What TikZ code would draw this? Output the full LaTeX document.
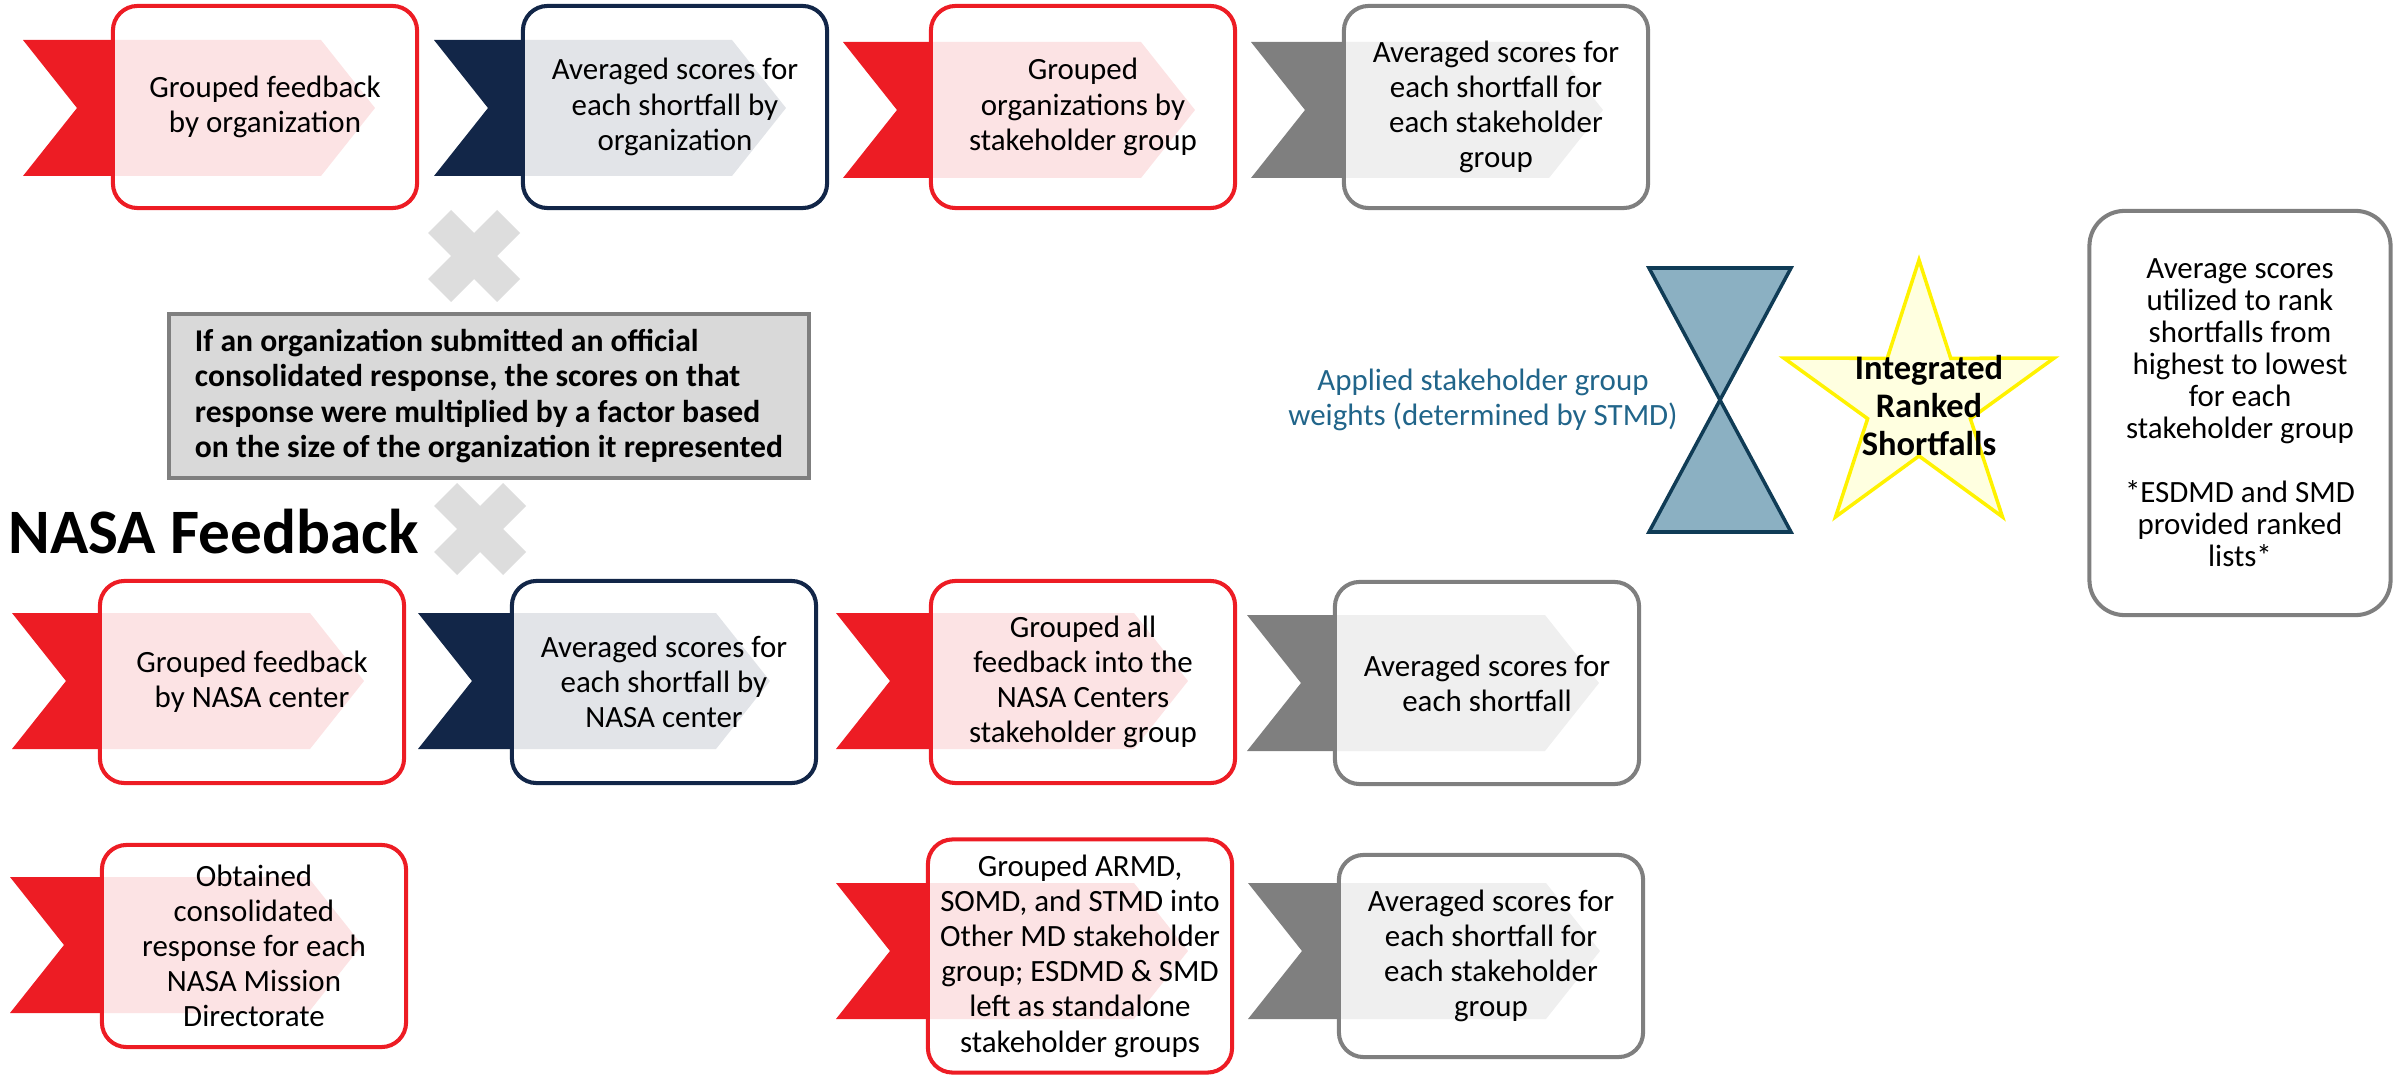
\documentclass[tikz,border=0pt]{standalone}
\usepackage{fontspec}
\setmainfont{Carlito}
\definecolor{nasared}{RGB}{237,28,36}
\definecolor{nasanavy}{RGB}{18,38,72}
\definecolor{nasagray}{RGB}{127,127,127}
\definecolor{notefill}{RGB}{217,217,217}
\definecolor{xgray}{RGB}{221,221,221}
\definecolor{glassfill}{RGB}{139,176,194}
\definecolor{glassline}{RGB}{16,60,86}
\definecolor{starfill}{RGB}{255,255,224}
\definecolor{weightblue}{RGB}{33,101,138}

\tikzset{
  stepbox/.style={draw=#1, line width=1.15pt, rounded corners=7pt, fill=white,
    fill opacity=0.88, text opacity=1, minimum width=3.04cm, minimum height=2.02cm,
    align=center, inner sep=1pt, font=\fontsize{8.8}{10}\selectfont},
  notebox/.style={draw=nasagray, line width=1.1pt, fill=notefill, minimum width=6.4cm,
    minimum height=1.64cm, align=left, font=\fontsize{9}{10}\selectfont\bfseries},
  rankbox/.style={draw=nasagray, line width=1.15pt, rounded corners=10pt,
    minimum width=3.01cm, minimum height=4.04cm, align=center,
    font=\fontsize{8.8}{9.1}\selectfont},
  starline/.style={draw=yellow, line width=1pt, fill=starfill},
  glass/.style={draw=glassline, line width=1pt, fill=glassfill},
}

\begin{document}
\begin{tikzpicture}[x=0.01cm, y=-0.01cm]
\useasboundingbox (0,0) rectangle (2405,1076);
% chevrons behind the boxes
\foreach \cx/\cy/\cc in {23/108/nasared, 434/108/nasanavy, 843/110/nasared, 1251/110/nasagray,
    12/681/nasared, 418/681/nasanavy, 836/681/nasared, 1247/683/nasagray,
    10/945/nasared, 836/951/nasared, 1248/951/nasagray}
  \fill[\cc] (\cx,\cy-68) -- (\cx+298,\cy-68) -- (\cx+352,\cy) -- (\cx+298,\cy+68)
    -- (\cx,\cy+68) -- (\cx+54,\cy) -- cycle;
\foreach \xc/\yc in {474/256, 480/529}
  \fill[xgray, shift={(\xc,\yc)}] (-23,-46) -- (0,-23) -- (23,-46) -- (46,-23) -- (23,0)
    -- (46,23) -- (23,46) -- (0,23) -- (-23,46) -- (-46,23) -- (-23,0) -- (-46,-23) -- cycle;

\node[stepbox=nasared] (orggroup) at (265,107) {Grouped feedback\\by organization};
\node[stepbox=nasanavy] (orgavg) at (675,107) {Averaged scores for\\each shortfall by\\organization};
\node[stepbox=nasared] (stakegroup) at (1083,107) {Grouped\\organizations by\\stakeholder group};
\node[stepbox=nasagray] (stakeavg) at (1496,107) {Averaged scores for\\each shortfall for\\each stakeholder\\group};
\node[stepbox=nasared] (centergroup) at (252,682) {Grouped feedback\\by NASA center};
\node[stepbox=nasanavy] (centeravg) at (664,682) {Averaged scores for\\each shortfall by\\NASA center};
\node[stepbox=nasared] (centerall) at (1083,682) {Grouped all\\feedback into the\\NASA Centers\\stakeholder group};
\node[stepbox=nasagray] (centerscore) at (1487,683) {Averaged scores for\\each shortfall};
\node[stepbox=nasared] (mdresponse) at (254,946) {Obtained\\consolidated\\response for each\\NASA Mission\\Directorate};
\node[stepbox=nasared, minimum height=2.33cm] (mdgroup) at (1080,956) {Grouped ARMD,\\SOMD, and STMD into\\Other MD stakeholder\\group; ESDMD \& SMD\\left as standalone\\stakeholder groups};
\node[stepbox=nasagray] (mdavg) at (1491,956) {Averaged scores for\\each shortfall for\\each stakeholder\\group};

\node[notebox] (factornote) at (489,396) {If an organization submitted an official\\consolidated response, the scores on that\\response were multiplied by a factor based\\on the size of the organization it represented};
\node[anchor=base west, inner sep=0pt, font=\fontsize{18}{21}\selectfont\bfseries] (nasatitle) at (8,553) {NASA Feedback};

\node[text=weightblue, align=center, font=\fontsize{8.8}{10}\selectfont] (weights) at (1483,400) {Applied stakeholder group\\weights (determined by STMD)};
\draw[glass] (1649,268) -- (1791,268) -- (1649,532) -- (1791,532) -- cycle;
\draw[starline, shift={(1919,402)}] (-90:142) -- (-54:54) -- (-18:142) -- (18:54) -- (54:142)
  -- (90:54) -- (126:142) -- (162:54) -- (198:142) -- (234:54) -- cycle;
\node[align=center, font=\fontsize{9.8}{10.8}\selectfont\bfseries] (ranked) at (1929,406) {Integrated\\Ranked\\Shortfalls};
\node[rankbox] (ranknote) at (2240,413) {Average scores\\utilized to rank\\shortfalls from\\highest to lowest\\for each\\stakeholder group\\[9.1pt]*ESDMD and SMD\\provided ranked\\lists*};
\end{tikzpicture}
\end{document}
